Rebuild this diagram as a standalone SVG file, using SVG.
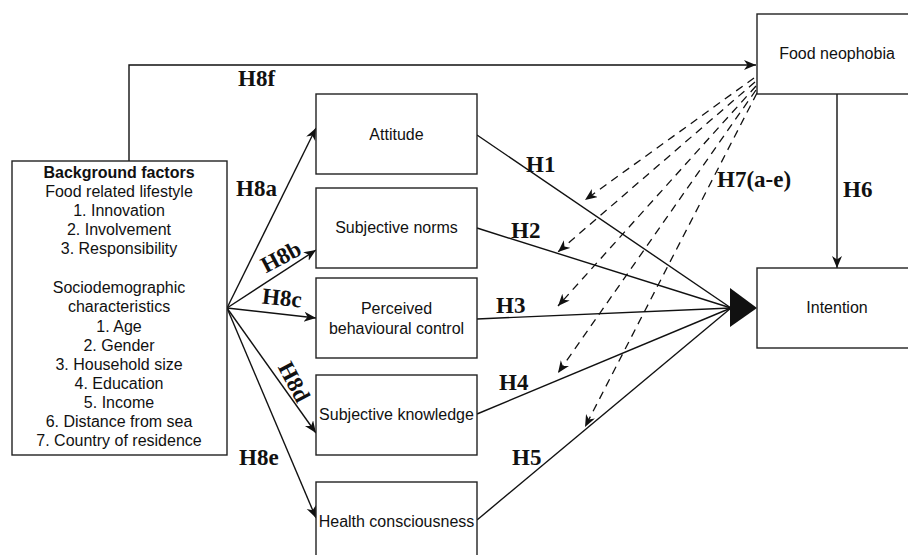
<svg xmlns="http://www.w3.org/2000/svg" width="908" height="555" viewBox="0 0 908 555">
<style>
.box{fill:#fff;stroke:#222;stroke-width:1.4}
.t{font-family:"Liberation Sans",Arial,sans-serif;font-size:16px;fill:#111;text-anchor:middle;dominant-baseline:central}
.bt{font-family:"Liberation Sans",Arial,sans-serif;font-size:16px;fill:#111;text-anchor:middle}
.h{font-family:"Liberation Serif","Times New Roman",serif;font-size:23px;font-weight:bold;fill:#111}
.ln{fill:none;stroke:#111;stroke-width:1.4}
.ar{marker-end:url(#arr)}
.ds{fill:none;stroke:#111;stroke-width:1.3;stroke-dasharray:8,6;marker-end:url(#arr)}
</style>
<defs>
<marker id="arr" markerUnits="userSpaceOnUse" markerWidth="14" markerHeight="12" refX="12" refY="5" orient="auto">
<path d="M0,0 L12,5 L0,10 L3.5,5 z" fill="#111"/>
</marker>
</defs>
<rect width="908" height="555" fill="#fff"/>
<g id="connectors">
<polyline class="ln ar" points="129,161 129,65 756,65"/>
<line class="ln ar" x1="227" y1="308" x2="316" y2="128"/>
<line class="ln ar" x1="227" y1="308" x2="316" y2="250"/>
<line class="ln ar" x1="227" y1="308" x2="316" y2="318"/>
<line class="ln ar" x1="227" y1="308" x2="316" y2="433"/>
<line class="ln ar" x1="227" y1="308" x2="316" y2="518"/>
<line class="ln" x1="477" y1="135" x2="731" y2="308"/>
<line class="ln" x1="477" y1="228" x2="731" y2="308"/>
<line class="ln" x1="477" y1="319" x2="731" y2="308"/>
<line class="ln" x1="477" y1="414" x2="731" y2="308"/>
<line class="ln" x1="477" y1="520" x2="731" y2="308"/>
<polygon points="730,288 757,308 730,327" fill="#111"/>
<line class="ln ar" x1="837" y1="94" x2="837" y2="268"/>
<line class="ds" x1="754" y1="78" x2="585" y2="200"/>
<line class="ds" x1="755" y1="82" x2="558" y2="252"/>
<line class="ds" x1="756" y1="86" x2="558" y2="306"/>
<line class="ds" x1="756" y1="90" x2="558" y2="373"/>
<line class="ds" x1="757" y1="93" x2="585" y2="427"/>
</g>
<g id="labels">
<text class="h" x="238" y="86">H8f</text>
<text class="h" x="236" y="196">H8a</text>
<text class="h" text-anchor="middle" dominant-baseline="central" transform="translate(281,257) rotate(-28)">H8b</text>
<text class="h" text-anchor="middle" dominant-baseline="central" transform="translate(282,298) rotate(6)">H8c</text>
<text class="h" text-anchor="middle" dominant-baseline="central" transform="translate(294,382) rotate(62)">H8d</text>
<text class="h" x="239" y="465">H8e</text>
<text class="h" x="526" y="172">H1</text>
<text class="h" x="511" y="238">H2</text>
<text class="h" x="496" y="313">H3</text>
<text class="h" x="499" y="390">H4</text>
<text class="h" x="512" y="465">H5</text>
<text class="h" x="717" y="187">H7(a-e)</text>
<text class="h" x="843" y="197">H6</text>
</g>
<g id="background">
<rect class="box" x="12" y="161" width="215" height="294"/>
<text class="bt" x="119" y="178" font-weight="bold">Background factors</text>
<text class="bt" x="119" y="197">Food related lifestyle</text>
<text class="bt" x="119" y="216">1. Innovation</text>
<text class="bt" x="119" y="235">2. Involvement</text>
<text class="bt" x="119" y="254">3. Responsibility</text>
<text class="bt" x="119" y="293">Sociodemographic</text>
<text class="bt" x="119" y="312">characteristics</text>
<text class="bt" x="119" y="332">1. Age</text>
<text class="bt" x="119" y="351">2. Gender</text>
<text class="bt" x="119" y="370">3. Household size</text>
<text class="bt" x="119" y="389">4. Education</text>
<text class="bt" x="119" y="408">5. Income</text>
<text class="bt" x="119" y="427">6. Distance from sea</text>
<text class="bt" x="119" y="446">7. Country of residence</text>
</g>
<g id="attitude">
<rect class="box" x="316" y="94" width="161" height="80"/>
<text class="t" x="396.5" y="134">Attitude</text>
</g>
<g id="norms">
<rect class="box" x="316" y="188" width="161" height="80"/>
<text class="t" x="396.5" y="227">Subjective norms</text>
</g>
<g id="pbc">
<rect class="box" x="316" y="278" width="161" height="80"/>
<text class="t" x="396.5" y="308">Perceived</text>
<text class="t" x="396.5" y="328">behavioural control</text>
</g>
<g id="knowledge">
<rect class="box" x="316" y="375" width="161" height="80"/>
<text class="t" x="396.5" y="414">Subjective knowledge</text>
</g>
<g id="health">
<rect class="box" x="316" y="482" width="161" height="80"/>
<text class="t" x="396.5" y="521">Health consciousness</text>
</g>
<g id="neophobia">
<rect class="box" x="757" y="14" width="160" height="80"/>
<text class="t" x="837" y="53">Food neophobia</text>
</g>
<g id="intention">
<rect class="box" x="757" y="268" width="160" height="80"/>
<text class="t" x="837" y="307">Intention</text>
</g>
</svg>
